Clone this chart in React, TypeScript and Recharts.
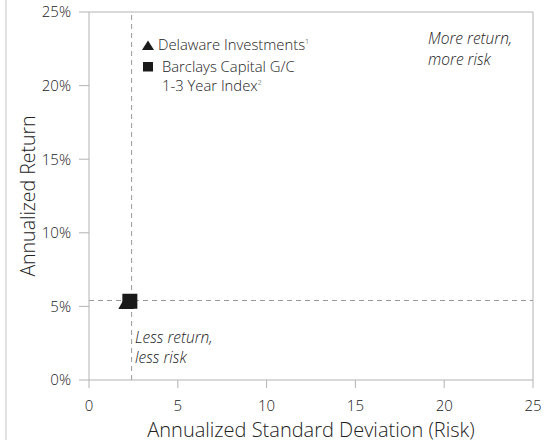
import React from "react";
import {
  ScatterChart,
  Scatter,
  XAxis,
  YAxis,
  ReferenceLine,
  Customized,
} from "recharts";

const X_TICKS = [0, 5, 10, 15, 20, 25];
const Y_TICKS = [0, 5, 10, 15, 20, 25];
const DELAWARE = [{ risk: 2.1, ret: 5.3 }];
const BARCLAYS = [{ risk: 2.3, ret: 5.35 }];
const REF_RISK = 2.4;
const REF_RETURN = 5.4;

const FONT = "'Open Sans', 'DejaVu Sans', sans-serif";
const AXIS = "#b3b3b3";
const TEXT = "#222";

const Triangle = (p: any) => {
  const { cx, cy } = p;
  const h = 14;
  const w = 16;
  return (
    <polygon
      points={`${cx},${cy - h / 2} ${cx + w / 2},${cy + h / 2} ${cx - w / 2},${cy + h / 2}`}
      fill="#1a1a1a"
    />
  );
};

const Square = (p: any) => {
  const { cx, cy } = p;
  const s = 15;
  return <rect x={cx - s / 2} y={cy - s / 2} width={s} height={s} fill="#1a1a1a" />;
};

// legend + quadrant notes
const Notes = () => (
  <g fontFamily={FONT} fill={TEXT} fontWeight={300}>
    <polygon points="148,40.5 154,50 142,50" fill="#1a1a1a" />
    <text x={158} y={50} fontSize={14.8}>
      Delaware Investments
      <tspan fontSize={7} dy={-6}>1</tspan>
    </text>
    <rect x={143} y={62} width={10} height={9.5} fill="#1a1a1a" />
    <text x={162} y={71.5} fontSize={14.8}>Barclays Capital G/C</text>
    <text x={162} y={91} fontSize={14.8}>
      1-3 Year Index
      <tspan fontSize={7} dy={-6}>2</tspan>
    </text>
    <text x={428} y={44} fontSize={15.5} fontStyle="italic">More return,</text>
    <text x={428} y={65} fontSize={15.5} fontStyle="italic">more risk</text>
    <text x={135} y={343} fontSize={15.5} fontStyle="italic">Less return,</text>
    <text x={135} y={363} fontSize={15.5} fontStyle="italic">less risk</text>
  </g>
);

export default function App() {
  return (
    <div style={{ position: "absolute", left: 0, top: 0, width: 552, height: 440, background: "#fff" }}>
      <div style={{ position: "absolute", left: 5, top: 0, width: 2, height: 440, background: "#e2e2e2" }} />
      <ScatterChart width={552} height={440} margin={{ top: 12, right: 19, left: 0, bottom: 0 }}>
        <XAxis
          type="number"
          dataKey="risk"
          domain={[0, 25]}
          ticks={X_TICKS}
          height={60}
          tickSize={8}
          tickMargin={12}
          stroke={AXIS}
          tick={{ fill: TEXT, fontSize: 15, fontFamily: FONT, fontWeight: 300 }}
          label={{
            value: "Annualized Standard Deviation (Risk)",
            position: "insideBottom",
            offset: 3,
            fill: TEXT,
            fontSize: 20,
            fontFamily: FONT,
            fontWeight: 300,
          }}
        />
        <YAxis
          type="number"
          dataKey="ret"
          domain={[0, 25]}
          ticks={Y_TICKS}
          width={89}
          tickSize={10}
          tickMargin={8}
          stroke={AXIS}
          tickFormatter={(v) => `${v}%`}
          tick={{ fill: TEXT, fontSize: 15, fontFamily: FONT, fontWeight: 300 }}
          label={{
            value: "Annualized Return",
            angle: -90,
            position: "insideLeft",
            offset: 28,
            style: { textAnchor: "middle" },
            fill: TEXT,
            fontSize: 19.5,
            fontFamily: FONT,
            fontWeight: 300,
          }}
        />
        <ReferenceLine y={25} stroke={AXIS} />
        <ReferenceLine x={25} stroke={AXIS} />
        <ReferenceLine x={REF_RISK} stroke="#999" strokeDasharray="5 4" />
        <ReferenceLine y={REF_RETURN} stroke="#999" strokeDasharray="5 4" />
        <Scatter data={DELAWARE} shape={Triangle} isAnimationActive={false} />
        <Scatter data={BARCLAYS} shape={Square} isAnimationActive={false} />
        <Customized component={Notes} />
      </ScatterChart>
    </div>
  );
}
